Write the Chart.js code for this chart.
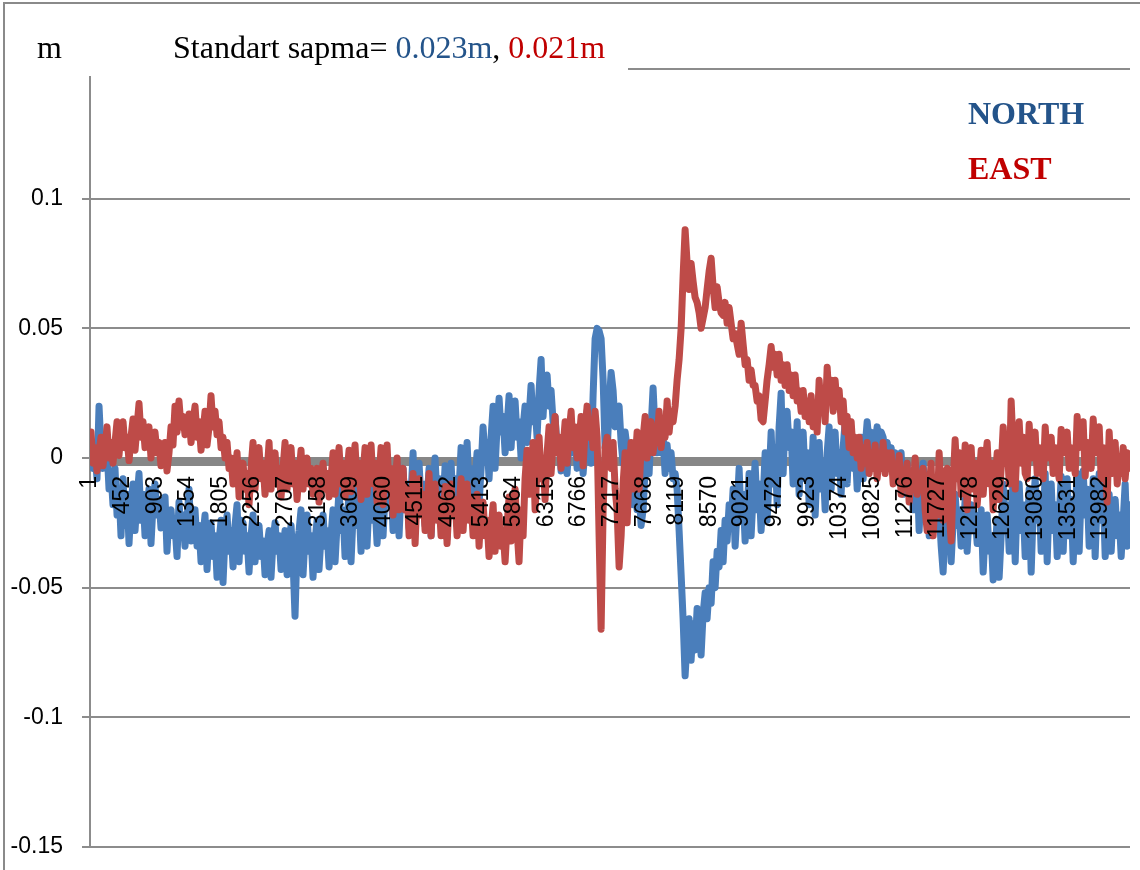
<!DOCTYPE html>
<html>
<head>
<meta charset="utf-8">
<script src="https://cdn.jsdelivr.net/npm/chart.js@4.4.1/dist/chart.umd.min.js"></script>
<style>
  html, body { margin: 0; padding: 0; background: #ffffff; }
  canvas { display: block; }
</style>
</head>
<body>
<canvas id="chart" width="1140" height="870"></canvas>
<script>
// Epoch labels shown on the horizontal axis
const tickLabels = [1, 452, 903, 1354, 1805, 2256, 2707, 3158, 3609, 4060, 4511, 4962, 5413, 5864, 6315, 6766,
  7217, 7668, 8119, 8570, 9021, 9472, 9923, 10374, 10825, 11276, 11727, 12178, 12629, 13080, 13531, 13982];

// Decimated position residuals (m), one value per ~28 epochs
const northValues = [
  0.006,-0.004,0.002,-0.008, 0.020,0.004,-0.004,0.008, 0.004,-0.012,-0.006,-0.018, -0.004,-0.022,-0.012,-0.030, -0.008,-0.026,-0.014,-0.033,
  -0.018,-0.010,-0.028,-0.016, -0.006,-0.024,-0.014,-0.030, -0.020,-0.012,-0.033,-0.018, -0.010,-0.022,-0.016,-0.027, -0.024,-0.015,-0.036,-0.022,
  -0.020,-0.030,-0.026,-0.038, -0.017,-0.028,-0.022,-0.034, -0.024,-0.012,-0.032,-0.020, -0.020,-0.034,-0.026,-0.040, -0.030,-0.022,-0.043,-0.028,
  -0.025,-0.038,-0.030,-0.046, -0.032,-0.024,-0.048,-0.030, -0.022,-0.036,-0.028,-0.042, -0.026,-0.018,-0.040,-0.024, -0.025,-0.036,-0.030,-0.044,
  -0.030,-0.022,-0.040,-0.028, -0.026,-0.038,-0.032,-0.045, -0.034,-0.028,-0.046,-0.032, -0.025,-0.036,-0.030,-0.043, -0.034,-0.028,-0.045,-0.032,
  -0.026,-0.040,-0.061,-0.034, -0.028,-0.020,-0.045,-0.030, -0.022,-0.036,-0.030,-0.046, -0.032,-0.024,-0.043,-0.030, -0.022,-0.034,-0.028,-0.042,
  -0.030,-0.020,-0.040,-0.026, -0.012,-0.028,-0.020,-0.038, -0.024,-0.014,-0.040,-0.022, -0.010,-0.026,-0.018,-0.036, -0.022,-0.008,-0.034,-0.016,
  -0.010,-0.024,-0.018,-0.033, -0.020,-0.006,-0.030,-0.014, 0.000,-0.018,-0.010,-0.028, -0.016,-0.002,-0.030,-0.012, -0.004,-0.020,-0.010,-0.027,
  -0.014,0.002,-0.028,-0.008, -0.002,-0.018,-0.010,-0.026, -0.016,-0.004,-0.030,-0.012, 0.000,-0.016,-0.008,-0.025, -0.018,-0.003,-0.031,-0.012,
  -0.002,-0.018,-0.008,-0.026, -0.012,0.004,-0.024,-0.006, 0.006,-0.012,-0.004,-0.022, -0.008,0.002,-0.018,-0.004, 0.012,0.000,0.006,-0.008,
  0.008,0.020,-0.004,0.012, 0.023,0.010,0.016,0.002, 0.012,0.024,0.004,0.018, 0.022,0.008,0.014,0.000, 0.012,0.020,0.006,0.016,
  0.028,0.014,0.020,0.008, 0.026,0.038,0.016,0.030, 0.032,0.020,0.026,0.014, 0.016,0.004,0.008,-0.005, 0.002,0.010,-0.006,0.006,
  0.014,0.002,0.008,-0.004, 0.000,0.010,-0.006,0.004, 0.018,0.006,-0.002,0.024, 0.046,0.050,0.049,0.046, 0.030,0.004,0.002,0.020,
  0.033,0.026,0.012,0.018, 0.020,0.006,-0.002,0.010, 0.004,-0.012,-0.006,-0.018, -0.004,-0.020,-0.012,-0.026, -0.020,-0.004,0.010,-0.006,
  0.012,0.027,0.010,0.002, 0.014,0.002,0.008,-0.006, 0.005,-0.004,0.002,-0.008, -0.006,-0.012,-0.028,-0.045, -0.062,-0.084,-0.070,-0.062,
  -0.078,-0.064,-0.074,-0.058, -0.066,-0.076,-0.060,-0.052, -0.062,-0.050,-0.056,-0.040, -0.050,-0.036,-0.042,-0.028, -0.040,-0.024,-0.032,-0.018,
  -0.026,-0.012,-0.034,-0.020, -0.004,-0.024,-0.014,-0.032, -0.020,-0.006,-0.030,-0.014, -0.002,-0.020,-0.010,-0.028, -0.016,0.002,-0.024,-0.008,
  0.010,-0.010,0.004,-0.018, 0.012,0.025,-0.006,0.016, 0.018,0.004,0.010,-0.010, -0.004,0.014,-0.014,0.006, 0.010,-0.008,0.002,-0.018,
  -0.010,0.008,-0.022,-0.002, 0.006,-0.012,-0.002,-0.020, 0.002,0.012,-0.012,0.006, 0.010,-0.006,0.002,-0.014, 0.004,0.014,-0.010,0.008,
  0.010,-0.004,0.004,-0.012, 0.000,0.008,-0.008,0.004, 0.014,0.006,0.010,0.002, 0.006,0.012,0.002,0.010, 0.008,0.002,0.006,0.000,
  0.004,-0.004,0.002,-0.006, -0.004,0.002,-0.014,-0.006, -0.002,-0.014,-0.008,-0.020, -0.016,-0.004,-0.028,-0.012, -0.002,-0.020,-0.010,-0.030,
  -0.018,-0.010,-0.026,-0.016, -0.020,-0.034,-0.044,-0.026, -0.030,-0.018,-0.040,-0.024, -0.014,-0.026,-0.020,-0.034, -0.028,-0.016,-0.036,-0.022,
  -0.018,-0.028,-0.022,-0.033, -0.032,-0.020,-0.044,-0.028, -0.022,-0.036,-0.030,-0.047, -0.034,-0.024,-0.046,-0.030, -0.010,-0.026,-0.018,-0.036,
  -0.024,-0.008,-0.040,-0.016, -0.010,-0.028,-0.018,-0.038, -0.030,-0.012,-0.044,-0.020, -0.008,-0.024,-0.014,-0.036, -0.026,-0.006,-0.040,-0.016,
  -0.010,-0.028,-0.018,-0.038, -0.024,-0.007,-0.036,-0.014, -0.008,-0.030,-0.016,-0.040, -0.022,-0.006,-0.036,-0.012, -0.005,-0.022,-0.012,-0.034,
  -0.026,-0.008,-0.038,-0.016, -0.006,-0.024,-0.014,-0.038, -0.026,-0.014,-0.036,-0.020, -0.016,-0.030,-0.022,-0.038, -0.024,-0.010,-0.034,-0.018
];

const eastValues = [
  0.010,-0.002,0.004,-0.005, 0.002,0.008,-0.003,0.004, 0.012,0.000,0.006,-0.002, 0.006,0.014,0.001,0.010, 0.014,0.004,0.008,-0.001,
  0.008,0.015,0.003,0.012, 0.021,0.008,0.014,0.004, 0.006,0.012,0.000,0.008, 0.010,0.002,0.006,-0.003, -0.002,0.006,-0.005,0.002,
  0.012,0.005,0.020,0.010, 0.022,0.012,0.016,0.009, 0.010,0.017,0.006,0.014, 0.020,0.008,0.014,0.003, 0.010,0.018,0.005,0.012,
  0.024,0.012,0.018,0.009, 0.014,0.004,0.008,0.000, 0.006,-0.004,0.000,-0.010, -0.006,0.002,-0.015,-0.004, -0.002,-0.012,-0.006,-0.018,
  -0.004,0.006,-0.012,0.000, 0.004,-0.008,-0.002,-0.014, -0.006,0.006,-0.012,-0.002, 0.002,-0.010,-0.004,-0.015, -0.004,0.006,-0.012,0.000,
  0.004,-0.010,-0.002,-0.016, -0.006,0.003,-0.012,-0.002, 0.000,-0.010,-0.004,-0.014, -0.010,-0.004,-0.017,-0.008, -0.002,-0.012,-0.006,-0.015,
  -0.008,0.002,-0.014,-0.004, 0.004,-0.010,-0.002,-0.015, -0.006,0.003,-0.013,-0.002, 0.005,-0.010,-0.002,-0.016, -0.006,0.004,-0.014,-0.002,
  0.005,-0.010,-0.002,-0.017, -0.008,0.004,-0.018,-0.004, 0.005,-0.012,-0.004,-0.022, -0.010,0.000,-0.020,-0.008, -0.004,-0.020,-0.012,-0.030,
  -0.020,-0.006,-0.033,-0.014, -0.008,-0.022,-0.014,-0.028, -0.020,-0.006,-0.030,-0.014, -0.010,-0.024,-0.016,-0.030, -0.024,-0.011,-0.033,-0.018,
  -0.010,-0.022,-0.016,-0.030, -0.020,-0.008,-0.028,-0.014, -0.010,-0.024,-0.016,-0.030, -0.026,-0.014,-0.034,-0.020, -0.017,-0.030,-0.024,-0.038,
  -0.028,-0.018,-0.036,-0.024, -0.022,-0.034,-0.028,-0.040, -0.026,-0.015,-0.032,-0.020, -0.012,-0.028,-0.040,-0.020, -0.030,-0.008,0.003,-0.014,
  -0.006,0.006,-0.020,-0.004, 0.008,-0.008,0.000,-0.016, 0.002,0.012,-0.006,0.006, 0.016,0.002,0.008,-0.004, 0.004,0.014,-0.002,0.010,
  0.018,0.004,0.012,0.000, 0.006,0.016,-0.003,0.010, 0.020,0.008,0.014,0.004, 0.018,0.008,-0.030,-0.066, -0.020,0.004,0.008,0.002,
  -0.004,0.006,-0.012,-0.020, -0.042,-0.030,-0.010,0.002, -0.025,-0.006,0.006,-0.012, -0.002,0.010,-0.012,0.004, 0.008,0.016,0.000,0.012,
  0.014,0.002,0.010,0.006, 0.018,0.004,0.012,0.008, 0.022,0.010,0.018,0.014, 0.020,0.030,0.038,0.050, 0.070,0.088,0.075,0.065,
  0.075,0.068,0.062,0.060, 0.056,0.050,0.054,0.058, 0.065,0.072,0.077,0.066, 0.058,0.066,0.060,0.056, 0.055,0.060,0.052,0.058,
  0.052,0.046,0.048,0.044, 0.040,0.052,0.044,0.036, 0.038,0.030,0.034,0.028, 0.028,0.022,0.024,0.015, 0.014,0.022,0.030,0.036,
  0.043,0.035,0.040,0.032, 0.040,0.030,0.036,0.028, 0.036,0.026,0.032,0.024, 0.032,0.022,0.026,0.018, 0.026,0.016,0.022,0.014,
  0.024,0.012,0.020,0.010, 0.030,0.018,0.026,0.014, 0.035,0.022,0.030,0.018, 0.030,0.020,0.026,0.014, 0.022,0.010,0.016,0.004,
  0.014,0.002,0.008,0.000, 0.008,-0.004,0.004,-0.002, 0.006,-0.006,0.002,-0.004, 0.005,-0.008,0.000,-0.004, 0.006,-0.006,0.002,-0.003,
  0.002,-0.010,-0.004,-0.008, 0.001,-0.014,-0.006,-0.010, -0.002,-0.017,-0.008,-0.012, 0.000,-0.014,-0.006,-0.010, -0.004,-0.020,-0.028,-0.012,
  -0.002,-0.030,-0.016,-0.022, 0.002,-0.014,-0.024,-0.006, -0.004,-0.020,-0.032,-0.010, 0.007,-0.008,0.002,-0.014, -0.010,0.005,-0.020,-0.004,
  0.004,-0.012,-0.002,-0.018, -0.008,0.003,-0.014,-0.002, 0.006,-0.010,-0.002,-0.020, -0.008,0.002,-0.016,-0.004, 0.012,-0.002,0.006,-0.010,
  0.022,0.004,-0.012,0.006, 0.014,-0.002,0.008,-0.006, -0.008,0.013,0.000,0.006, 0.010,-0.006,0.004,-0.002, -0.008,0.012,0.000,0.006,
  0.008,-0.006,0.004,-0.002, -0.008,0.011,0.002,0.006, 0.010,-0.004,0.004,0.000, -0.006,0.016,0.004,0.010, 0.014,-0.007,0.006,0.000,
  -0.004,0.015,0.002,0.010, 0.012,-0.008,0.004,-0.002, -0.017,0.010,-0.006,0.002, 0.006,-0.010,0.000,-0.006, 0.004,-0.008,0.002,-0.004
];

const seriesNames = ['NORTH', 'EAST'];
const stdDevText = ['0.023m', '0.021m'];
const EPOCH_COUNT = 14386;
const FIRST_EPOCH = 14;
const EPOCH_STEP = 27.67;

const NORTH_LINE = '#4A7EBB';
const EAST_LINE = '#BE4B48';
const NORTH_TEXT = '#24548A';
const EAST_TEXT = '#C00000';
const GRID = '#8c8c8c';

const epochOf = (j) => Math.round(FIRST_EPOCH + j * EPOCH_STEP);
const toPoints = (vals) => vals.map((v, j) => ({ x: epochOf(j), y: v }));

// Thick grey horizontal axis through zero, under the series
const zeroAxisBand = {
  id: 'zeroAxisBand',
  beforeDatasetsDraw(chart) {
    const { ctx, chartArea, scales } = chart;
    const y0 = scales.y.getPixelForValue(0);
    ctx.save();
    ctx.fillStyle = '#878787';
    ctx.fillRect(chartArea.left, y0 - 1, chartArea.right - chartArea.left, 9);
    ctx.restore();
  }
};

// Header text, series names and the outer frame
const headerPlugin = {
  id: 'header',
  afterDraw(chart) {
    const ctx = chart.ctx;
    ctx.save();
    ctx.fillStyle = '#ffffff';
    ctx.fillRect(0, 0, 628, 76);

    ctx.textBaseline = 'alphabetic';
    ctx.textAlign = 'left';
    ctx.font = '32px "Liberation Serif", "Times New Roman", serif';
    ctx.fillStyle = '#000000';
    ctx.fillText('m', 37, 58);

    const parts = [
      ['Standart sapma= ', '#000000'],
      [stdDevText[0], NORTH_TEXT],
      [', ', '#000000'],
      [stdDevText[1], EAST_TEXT]
    ];
    let x = 173;
    for (const [t, c] of parts) {
      ctx.fillStyle = c;
      ctx.fillText(t, x, 58);
      x += ctx.measureText(t).width;
    }

    ctx.font = 'bold 32px "Liberation Serif", "Times New Roman", serif';
    ctx.fillStyle = NORTH_TEXT;
    ctx.fillText(seriesNames[0], 968, 124);
    ctx.fillStyle = EAST_TEXT;
    ctx.fillText(seriesNames[1], 968, 179);

    ctx.strokeStyle = '#8a8a8a';
    ctx.lineWidth = 2;
    ctx.beginPath();
    ctx.moveTo(4, 870);
    ctx.lineTo(4, 3);
    ctx.lineTo(1140, 3);
    ctx.stroke();
    ctx.restore();
  }
};

const tickFont = { family: '"Liberation Sans", Arial, sans-serif', size: 23 };

new Chart(document.getElementById('chart'), {
  type: 'line',
  data: {
    datasets: [
      { label: seriesNames[0], data: toPoints(northValues), borderColor: NORTH_LINE, borderWidth: 7, order: 1 },
      { label: seriesNames[1], data: toPoints(eastValues), borderColor: EAST_LINE, borderWidth: 7, order: 0 }
    ]
  },
  options: {
    responsive: false,
    animation: false,
    devicePixelRatio: 1,
    layout: { padding: { top: 69, right: 10, bottom: 23, left: 0 } },
    plugins: { legend: { display: false }, tooltip: { enabled: false } },
    elements: {
      point: { radius: 0 },
      line: { tension: 0, borderJoinStyle: 'round', borderCapStyle: 'round', fill: false }
    },
    scales: {
      x: {
        type: 'linear',
        position: { y: 0 },
        min: 0,
        max: EPOCH_COUNT,
        grid: { display: false, drawTicks: false },
        border: { display: false },
        afterBuildTicks: (scale) => { scale.ticks = tickLabels.map(v => ({ value: v })); },
        afterFit: (scale) => { scale.paddingLeft = 0; scale.paddingRight = 0; },
        ticks: {
          z: 1,
          autoSkip: false,
          minRotation: 90,
          maxRotation: 90,
          padding: 18,
          color: '#000000',
          font: tickFont,
          callback: (v) => String(v)
        }
      },
      y: {
        type: 'linear',
        min: -0.15,
        max: 0.15,
        afterFit: (scale) => { scale.width = 90; scale.paddingTop = 0; scale.paddingBottom = 0; },
        ticks: {
          stepSize: 0.05,
          padding: 19,
          color: '#000000',
          font: tickFont,
          callback: (v) => String(Math.round(v * 100) / 100)
        },
        grid: { color: GRID, lineWidth: 2, tickLength: 8 },
        border: { color: GRID, width: 2 }
      }
    }
  },
  plugins: [zeroAxisBand, headerPlugin]
});
</script>
</body>
</html>
